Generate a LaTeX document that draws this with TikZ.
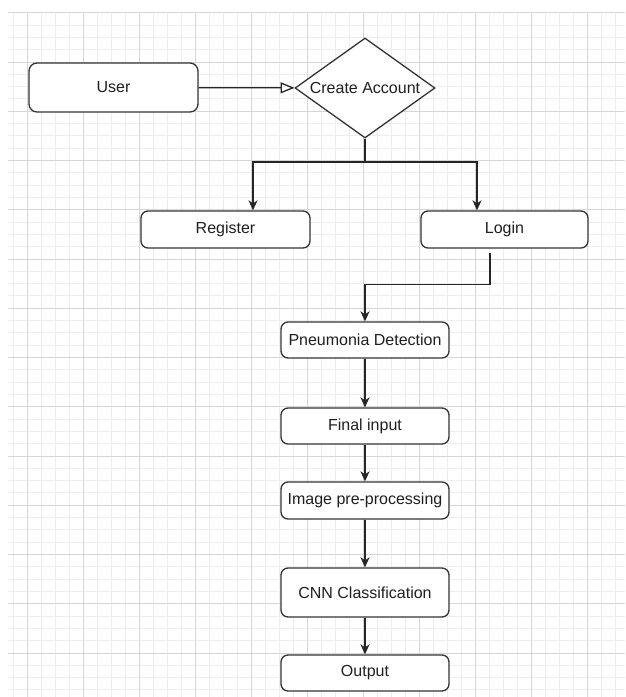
\documentclass[tikz,border=0pt]{standalone}
\usepackage{fontspec}
\setmainfont{Liberation Sans}
\usetikzlibrary{arrows.meta,shapes.geometric}

\begin{document}
\begin{tikzpicture}[x=1pt, y=-1pt, every node/.style={font=\fontsize{16}{19}\selectfont, text=black!88},
	>={Stealth[length=10pt, width=9pt, inset=3pt]},
	box/.style={draw=black!80, line width=1.3pt, rounded corners=7pt, fill=white, inner sep=2pt},
	decide/.style={draw=black!80, line width=1.3pt, diamond, aspect=1.4, fill=white, inner sep=0pt, minimum width=140pt, minimum height=100pt},
	flow/.style={->, draw=black!85, line width=1.5pt},
	gridminor/.style={black!7, line width=0.8pt}, gridmajor/.style={black!16, line width=0.9pt}]
	\useasboundingbox (0,0) rectangle (625,697);
	\fill[white] (0,0) rectangle (625,697);
	\begin{scope}
		\clip (8,12) rectangle (625,697);
		\foreach \i in {0,...,44} {\draw[gridminor] ({13+14*\i},0) -- ({13+14*\i},697);}
		\foreach \i in {0,...,56} {\draw[gridminor] (0,{12.7+12.3125*\i}) -- (625,{12.7+12.3125*\i});}
		\foreach \i in {0,...,11} {\draw[gridmajor] ({27+56*\i},0) -- ({27+56*\i},697);}
		\foreach \i in {0,...,14} {\draw[gridmajor] (0,{12.7+49.25*\i}) -- (625,{12.7+49.25*\i});}
	\end{scope}
	\node[box, minimum width=169pt, minimum height=49pt, rounded corners=8pt] (user) at (113.5,87.5) {User};
	\node[decide] (create) at (365,88) {Create Account};
	\node[box, minimum width=169pt, minimum height=37pt] (register) at (225.5,229.5) {Register};
	\node[box, minimum width=167pt, minimum height=37pt] (login) at (504.5,229.5) {Login};
	\node[box, minimum width=168pt, minimum height=36pt] (detect) at (365,340) {Pneumonia Detection};
	\node[box, minimum width=168pt, minimum height=36pt] (final) at (365,426) {Final input};
	\node[box, minimum width=168pt, minimum height=37pt] (prep) at (365,500.5) {Image pre-processing};
	\node[box, minimum width=168pt, minimum height=49pt] (cnn) at (365,592.5) {CNN Classification};
	\node[box, minimum width=168pt, minimum height=36pt] (output) at (365,673) {Output};
	\coordinate (split) at (365,162);
	\draw[draw=black!85, line width=1.3pt, -{Triangle[open, length=14pt, width=11pt]}] (user) -- (create);
	\draw[flow] (create.south) -- (split) -| ([xshift=27.5pt]register.north);
	\draw[flow] (split) -| ([xshift=-27.5pt]login.north);
	\draw[flow] ([xshift=-14.5pt, yshift=-4pt]login.south) -- ++(0,32) -| (detect.north);
	\draw[flow] (detect) -- (final);
	\draw[flow] (final) -- (prep);
	\draw[flow] (prep) -- (cnn);
	\draw[flow] (cnn) -- (output);
\end{tikzpicture}
\end{document}
